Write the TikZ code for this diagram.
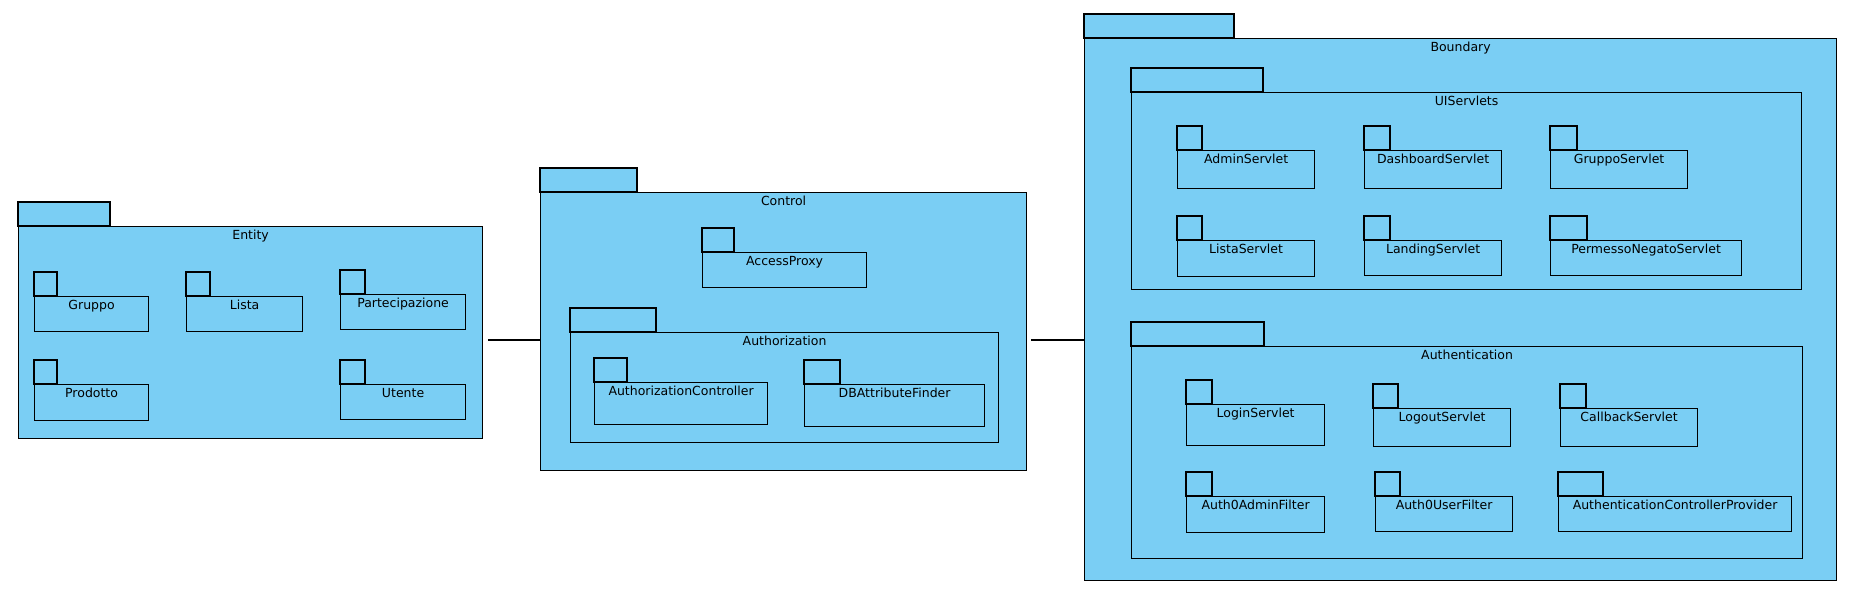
\documentclass[tikz,border=0pt]{standalone}
\usepackage{fontspec}
\setmainfont{DejaVu Sans}
\usepackage{tikz}

\definecolor{pkgblue}{RGB}{122,206,244}

% #1 name, #2 label, #3 x, #4 top of body, #5 width, #6 height, #7 tab width
\newcommand{\pkg}[7]{%
    \draw[pkgbox] (#3,#4) rectangle ++(#7,-24);
    \node[pkgbox, anchor=north west, minimum width=#5pt, minimum height=#6pt] (#1) at (#3,#4) {};
    \node[pkglabel, anchor=base] at ([yshift=-13.5pt]#1.north) {#2};
}

\begin{document}
\begin{tikzpicture}[x=1pt, y=-1pt,
        pkgbox/.style={draw=black, fill=pkgblue, line width=1.2pt, inner sep=0pt},
        pkglabel/.style={font=\fontsize{12.5}{14}\selectfont, inner sep=0pt},
        link/.style={line width=1.2pt}]
    \useasboundingbox (0,0) rectangle (1852,596);
    % Entity
    \pkg{entity}{Entity}{18}{226}{464}{212}{92}
    \foreach \lbl/\x/\y/\w/\h/\t in {Gruppo/34/296/114/35/23, Lista/186/296/116/35/24, Partecipazione/340/294/125/35/25, Prodotto/34/384/114/36/23, Utente/340/384/125/35/25} {
            \pkg{\lbl}{\lbl}{\x}{\y}{\w}{\h}{\t}
        }
    % Control
    \pkg{control}{Control}{540}{192}{486}{278}{97}
    \pkg{AccessProxy}{AccessProxy}{702}{252}{164}{35}{32}
    \pkg{authorization}{Authorization}{570}{332}{428}{110}{86}
    \foreach \lbl/\x/\y/\w/\h/\t in {AuthorizationController/594/382/173/42/33, DBAttributeFinder/804/384/180/42/36} {
            \pkg{\lbl}{\lbl}{\x}{\y}{\w}{\h}{\t}
        }
    % Boundary
    \pkg{boundary}{Boundary}{1084}{38}{752}{542}{150}
    \pkg{uiservlets}{UIServlets}{1131}{92}{670}{197}{132}
    \foreach \lbl/\x/\y/\w/\h/\t in {AdminServlet/1177/150/137/38/25, DashboardServlet/1364/150/137/38/26, GruppoServlet/1550/150/137/38/27, ListaServlet/1177/240/137/36/25, LandingServlet/1364/240/137/35/26, PermessoNegatoServlet/1550/240/191/35/37} {
            \pkg{\lbl}{\lbl}{\x}{\y}{\w}{\h}{\t}
        }
    \pkg{authentication}{Authentication}{1131}{346}{671}{212}{133}
    \foreach \lbl/\x/\y/\w/\h/\t in {LoginServlet/1186/404/138/41/26, LogoutServlet/1373/408/137/38/25, CallbackServlet/1560/408/137/38/26, Auth0AdminFilter/1186/496/138/36/26, Auth0UserFilter/1375/496/137/35/25, AuthenticationControllerProvider/1558/496/233/35/45} {
            \pkg{\lbl}{\lbl}{\x}{\y}{\w}{\h}{\t}
        }
    % Links
    \coordinate (midrow) at (0,340);
    \draw[link, shorten <=5pt] (entity.east |- midrow) -- (control.west |- midrow);
    \draw[link, shorten <=4pt] (control.east |- midrow) -- (boundary.west |- midrow);
\end{tikzpicture}
\end{document}
